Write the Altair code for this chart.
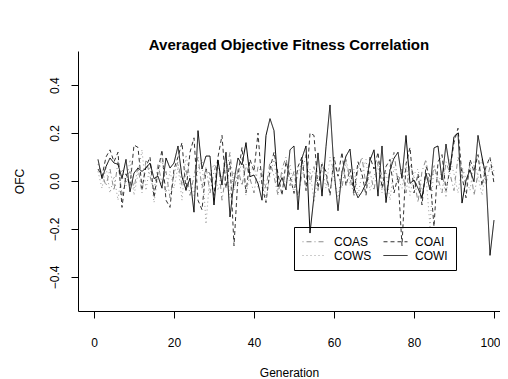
import altair as alt
import pandas as pd

generations = list(range(1, 101))

coas = [0.07, 0.03, -0.02, 0.05, -0.04, 0.08, -0.06, 0.01, 0.04, -0.03,
        0.06, -0.05, 0.09, 0.02, -0.04, 0.07, -0.01, 0.04, -0.07, 0.03,
        0.08, -0.02, 0.05, -0.06, 0.02, 0.10, -0.03, 0.06, -0.05, 0.04,
        0.09, -0.08, 0.03, 0.12, -0.04, 0.05, -0.02, 0.07, 0.01, -0.05,
        0.06, 0.03, -0.03, 0.08, 0.02, -0.06, 0.05, 0.10, -0.02, 0.04,
        -0.07, 0.03, 0.11, -0.01, 0.06, -0.04, 0.08, 0.02, -0.05, 0.07,
        0.03, -0.03, 0.09, 0.01, -0.06, 0.05, 0.10, -0.02, 0.04, -0.04,
        0.08, 0.02, -0.07, 0.06, 0.12, -0.01, 0.05, -0.05, 0.07, 0.02,
        -0.09, 0.04, 0.09, -0.03, 0.06, 0.01, -0.05, 0.08, 0.03, -0.04,
        0.10, 0.05, -0.02, 0.07, -0.06, 0.03, 0.09, -0.01, 0.06, 0.02]

coai = [0.05, 0.02, 0.10, 0.13, 0.08, 0.12, -0.11, 0.03, -0.02, 0.15,
        0.14, -0.03, 0.06, 0.10, -0.07, 0.04, 0.13, -0.08, -0.11, 0.05,
        0.10, 0.16, -0.04, 0.12, 0.18, -0.08, -0.12, 0.05, 0.03, -0.06,
        0.10, 0.19, -0.03, 0.08, -0.27, 0.02, 0.14, -0.05, 0.09, 0.04,
        0.20, -0.02, -0.09, 0.05, 0.12, 0.03, -0.06, 0.08, 0.02, -0.05,
        0.06, 0.10, -0.04, 0.20, 0.19, -0.03, 0.07, 0.04, -0.06, 0.10,
        0.02, 0.12, -0.02, 0.05, -0.05, 0.08, 0.03, -0.06, 0.10, 0.05,
        0.12, -0.03, 0.06, 0.09, -0.05, 0.02, -0.27, 0.07, 0.14, -0.05,
        0.03, -0.10, 0.06, 0.02, -0.19, 0.08, 0.11, -0.04, 0.05, 0.16,
        0.22, 0.02, -0.07, 0.09, 0.04, 0.11, -0.02, 0.06, 0.10, -0.01]

cows = [0.04, -0.03, 0.06, -0.05, 0.02, -0.08, 0.05, -0.02, 0.09, -0.06,
        0.03, 0.13, -0.04, 0.07, -0.09, 0.02, 0.10, -0.05, 0.04, -0.03,
        0.06, -0.08, 0.11, 0.01, -0.06, 0.05, 0.09, -0.18, 0.03, 0.07,
        -0.04, 0.02, 0.08, -0.07, 0.04, -0.02, 0.10, -0.06, 0.03, 0.07,
        -0.03, 0.05, -0.08, 0.02, 0.09, -0.05, 0.04, -0.02, 0.07, -0.06,
        0.03, 0.08, -0.04, 0.05, -0.09, 0.02, 0.06, -0.03, 0.10, 0.01,
        -0.07, 0.04, 0.08, -0.02, 0.05, -0.06, 0.03, 0.09, -0.04, 0.02,
        0.07, -0.05, 0.04, -0.08, 0.06, 0.01, -0.03, 0.08, -0.06, 0.03,
        0.05, -0.04, 0.02, -0.19, 0.07, -0.02, 0.04, -0.07, 0.09, 0.03,
        -0.05, 0.06, 0.01, -0.04, 0.08, 0.02, -0.06, 0.05, 0.10, 0.04]

cowi = [0.09, 0.01, 0.06, 0.096, 0.075, 0.07, 0.01, 0.09, -0.045, 0.033,
        0.054, 0.04, 0.054, 0.075, 0.01, 0.02, -0.03, 0.096, 0.054, 0.075,
        0.146, 0.017, -0.037, 0.012, -0.13, 0.21, 0.05, 0.104, 0.104, -0.10,
        0.087, -0.017, 0.12, -0.15, 0.0, 0.096, 0.067, 0.16, 0.018, 0.025,
        -0.01, -0.08, 0.19, 0.26, 0.21, -0.024, 0.014, -0.037, 0.13, 0.146,
        -0.12, 0.096, 0.146, -0.217, -0.063, 0.117, -0.063, 0.143, 0.317, 0.046,
        -0.124, 0.039, 0.104, 0.133, -0.03, -0.07, -0.045, -0.01, 0.087, 0.13,
        -0.063, 0.146, -0.09, 0.046, 0.095, 0.12, 0.011, 0.19, -0.01, 0.004,
        -0.03, -0.07, 0.033, -0.037, 0.138, 0.146, 0.004, 0.154, 0.046, 0.185,
        0.20, -0.092, 0.004, 0.046, -0.003, 0.19, 0.10, 0.018, -0.31, -0.163]

series_names = ["COAS", "COAI", "COWS", "COWI"]
series_values = [coas, coai, cows, cowi]
series_colors = ["#8c8c8c", "#333333", "#9a9a9a", "#000000"]
series_dashes = [[1, 3, 5, 3], [4, 3], [1, 3], [1, 0]]

x_ticks = [0, 20, 40, 60, 80, 100]
y_ticks = [-0.4, -0.2, 0.0, 0.2, 0.4]

rows = []
for name, vals in zip(series_names, series_values):
    for g, v in zip(generations, vals):
        rows.append({"Generation": g, "OFC": v, "series": name})
df = pd.DataFrame(rows)

FONT = "Liberation Sans"

legend = alt.Legend(
    title=None, orient="none", legendX=216, legendY=176, columns=2,
    direction="horizontal",
    symbolType="M-2,0H2", symbolSize=144, symbolStrokeWidth=1,
    symbolOffset=6,
    labelFont=FONT, labelFontSize=12, labelColor="black", labelOffset=13,
    strokeColor="black", padding=8, rowPadding=1, columnPadding=9,
)

chart = alt.Chart(df).mark_line(strokeWidth=1).encode(
    x=alt.X("Generation:Q",
            scale=alt.Scale(domain=[-4, 101.5], nice=False, zero=False),
            axis=alt.Axis(values=x_ticks, title="Generation", grid=False,
                          tickSize=7, labelPadding=19, labelFlush=10,
                          labelFlushOffset=6,
                          titleY=65, titleBaseline="alphabetic")),
    y=alt.Y("OFC:Q",
            scale=alt.Scale(domain=[-0.542, 0.542], nice=False, zero=False),
            axis=alt.Axis(values=y_ticks, format=".1f", title="OFC", grid=False,
                          tickSize=7, labelAngle=270, labelAlign="center",
                          labelBaseline="alphabetic", labelPadding=13,
                          labelFlush=False, titleX=-55, titleAngle=270,
                          titleBaseline="alphabetic")),
    color=alt.Color("series:N",
                    scale=alt.Scale(domain=series_names, range=series_colors),
                    legend=legend),
    strokeDash=alt.StrokeDash("series:N",
                              scale=alt.Scale(domain=series_names, range=series_dashes),
                              legend=legend),
).properties(
    width=422, height=260,
    autosize=alt.AutoSizeParams(type="none"),
    padding={"left": 70, "top": 43, "right": 0, "bottom": 68},
    title=alt.TitleParams("Averaged Objective Fitness Correlation", font=FONT,
                          fontSize=15, fontWeight="bold", anchor="middle",
                          offset=-2, color="black"),
).configure_view(
    stroke=None
).configure_axis(
    labelFont=FONT, titleFont=FONT, labelFontSize=12, titleFontSize=12,
    titleFontWeight="normal", labelColor="black", titleColor="black",
    domainColor="black", tickColor="black", domainWidth=1, tickWidth=1,
)

chart.save("out.html", embed_options={"renderer": "svg", "actions": False})
